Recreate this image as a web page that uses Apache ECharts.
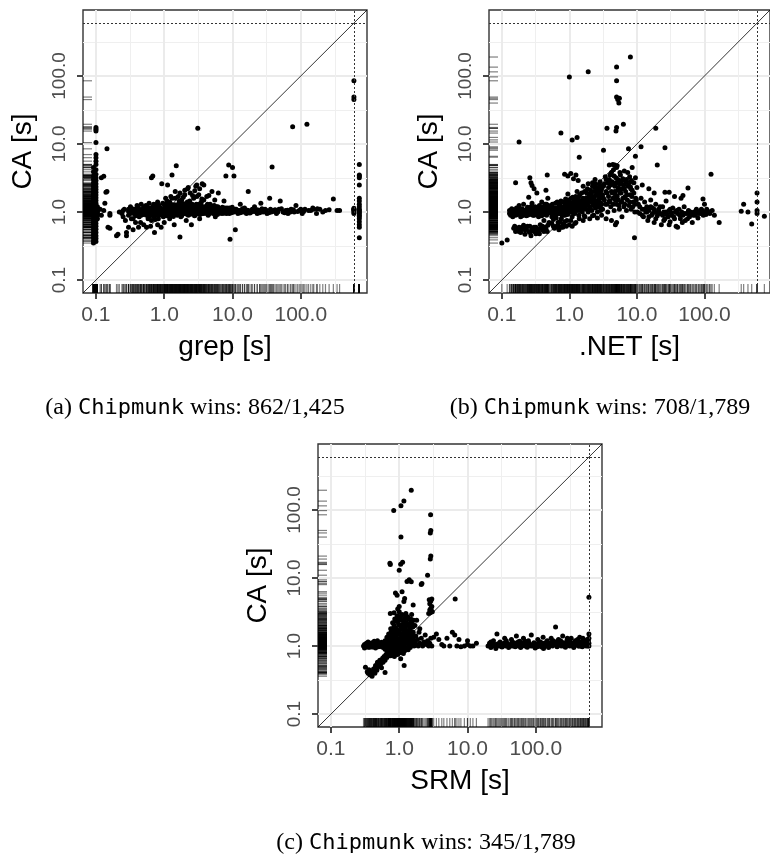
<!DOCTYPE html>
<html>
<head>
<meta charset="utf-8">
<script src="https://cdn.jsdelivr.net/npm/echarts@6/dist/echarts.min.js"></script>
<style>
  html, body { margin: 0; padding: 0; background: #fff; }
  #chart { width: 770px; height: 858px; }
</style>
</head>
<body>
<div id="chart"></div>
<script>
// shared log axis range of the three panels (10^-1.19 .. 10^2.97)
const AXIS_MIN = 0.0646
const AXIS_MAX = 933
const TIMEOUT = 600
const MAJOR_TICKS = [0.1, 1, 10, 100]
const MINOR_TICKS = [0.3162, 3.162, 31.62, 316.2]

const X_NAMES = ['grep [s]', '.NET [s]', 'SRM [s]']
const Y_NAME = 'CA [s]'
const PANEL_KEYS = ['a', 'b', 'c']
const WINS = ['862/1,425', '708/1,789', '345/1,789']

// (a) grep vs CA, [grep, CA]
const grepFast = [
  [0.092, 0.35], [0.092, 0.38], [0.092, 0.42], [0.092, 0.46], [0.092, 0.5], [0.092, 0.55], [0.092, 0.6], [0.092, 0.66],
  [0.092, 0.72], [0.092, 0.8], [0.092, 0.88], [0.092, 0.95], [0.092, 1.0], [0.092, 1.05], [0.092, 1.12], [0.092, 1.2],
  [0.092, 1.3], [0.092, 1.42], [0.092, 1.55], [0.092, 1.7], [0.092, 1.85], [0.092, 2.0], [0.092, 2.2], [0.092, 2.4],
  [0.092, 2.7], [0.092, 3.0], [0.092, 3.4], [0.092, 3.9], [0.092, 4.5],
  [0.1, 0.37], [0.1, 0.41], [0.1, 0.45], [0.1, 0.5], [0.1, 0.56], [0.1, 0.62], [0.1, 0.68], [0.1, 0.75], [0.1, 0.83],
  [0.1, 0.9], [0.1, 0.97], [0.1, 1.02], [0.1, 1.08], [0.1, 1.15], [0.1, 1.25], [0.1, 1.35], [0.1, 1.48], [0.1, 1.62],
  [0.1, 1.78], [0.1, 1.95], [0.1, 2.15], [0.1, 2.35], [0.1, 2.6], [0.1, 2.9], [0.1, 3.2], [0.1, 3.6], [0.1, 4.2],
  [0.1, 5.0], [0.1, 5.6], [0.1, 6.3], [0.1, 7.0], [0.1, 10.5], [0.1, 15.5], [0.1, 16.5], [0.1, 17.5],
  [0.096, 0.9], [0.096, 1.0], [0.096, 1.1], [0.096, 0.7], [0.096, 1.5], [0.096, 2.5], [0.096, 0.52], [0.096, 0.6],
  [0.096, 0.8], [0.096, 1.25], [0.096, 1.8], [0.096, 2.1], [0.096, 3.1], [0.096, 0.42],
  [0.105, 0.95], [0.105, 1.05], [0.105, 1.2], [0.105, 0.8], [0.105, 1.0], [0.105, 0.9], [0.105, 1.1],
]
const grepNear = [
  [0.12, 3.2], [0.13, 3.35], [0.14, 1.95], [0.145, 2.0], [0.145, 8.5], [0.135, 1.35], [0.16, 0.9], [0.16, 0.95],
  [0.16, 0.58], [0.15, 0.6], [0.13, 1.05], [0.12, 0.9], [0.115, 1.1],
]
const grepBand = [
  [0.2, 0.45], [0.21, 0.47], [0.22, 1.0], [0.24, 0.95], [0.25, 1.05], [0.27, 0.75], [0.28, 0.45], [0.28, 0.5],
  [0.3, 0.9], [0.3, 1.1], [0.32, 1.2], [0.33, 0.8], [0.34, 1.0], [0.35, 0.55], [0.36, 0.95], [0.37, 1.1], [0.38, 0.7],
  [0.4, 1.0], [0.4, 1.25], [0.42, 0.6], [0.43, 0.85], [0.45, 1.05], [0.46, 1.3], [0.47, 0.95], [0.5, 1.0], [0.5, 0.65],
  [0.52, 1.15], [0.55, 0.9], [0.56, 1.2], [0.58, 1.05], [0.6, 0.85], [0.6, 1.35], [0.62, 1.0], [0.65, 0.75],
  [0.65, 3.2], [0.68, 3.4], [0.7, 1.1], [0.7, 0.95], [0.72, 0.5], [0.75, 1.25], [0.78, 0.9], [0.8, 1.05], [0.8, 1.4],
  [0.82, 0.8], [0.85, 1.0], [0.88, 1.15], [0.9, 0.6], [0.9, 0.95], [0.92, 2.6], [0.95, 1.1], [0.97, 0.85],
  [0.45, 0.7], [0.5, 1.2], [0.55, 0.6], [0.6, 1.1], [0.63, 0.62], [0.66, 0.95], [0.7, 1.3], [0.74, 0.78], [0.77, 1.15],
  [0.8, 0.65], [0.84, 1.25], [0.87, 0.92], [0.35, 0.8], [0.4, 0.9], [0.3, 0.6], [0.25, 0.85], [0.26, 1.1],
  [1.0, 1.0], [1.0, 1.3], [1.0, 0.7], [1.05, 1.05], [1.1, 0.9], [1.1, 1.2], [1.12, 2.5], [1.15, 1.0], [1.2, 1.4],
  [1.2, 0.8], [1.25, 1.1], [1.3, 0.95], [1.3, 3.5], [1.35, 1.25], [1.4, 1.0], [1.4, 0.65], [1.45, 1.6], [1.5, 1.05],
  [1.5, 4.8], [1.55, 0.9], [1.6, 1.3], [1.6, 1.7], [1.65, 1.0], [1.7, 0.43], [1.7, 1.15], [1.75, 0.85], [1.8, 1.5],
  [1.85, 1.05], [1.9, 0.95], [1.95, 1.2], [2.0, 1.0], [2.0, 1.8], [2.1, 0.75], [2.1, 1.1], [2.2, 1.35], [2.25, 2.3],
  [2.3, 0.95], [2.4, 1.05], [2.5, 1.25], [2.5, 0.65], [2.6, 1.0], [2.7, 1.6], [2.8, 0.9], [2.9, 1.1], [3.0, 1.0],
  [3.0, 2.5], [3.1, 17], [3.2, 1.3], [3.3, 0.8], [3.4, 1.05], [3.5, 1.4], [3.6, 2.6], [3.7, 0.95], [3.8, 2.5],
  [3.9, 1.15], [4.0, 1.0], [4.2, 1.7], [4.4, 0.9], [4.5, 1.1], [4.7, 1.3], [5.0, 1.0], [5.0, 2.0], [5.3, 1.05],
  [5.6, 0.85], [5.8, 1.2], [6.0, 1.0], [6.2, 1.9], [6.5, 1.1], [7.0, 0.95], [7.3, 1.05], [7.5, 1.45], [8.0, 1.0],
  [8.0, 3.4], [8.3, 1.15], [8.8, 4.9], [9.0, 0.95], [9.2, 0.4], [9.5, 1.05], [10, 4.5], [10, 1.0], [10.5, 3.4],
  [11, 0.55], [11, 1.1], [12, 0.95], [12.5, 1.05], [13, 1.3], [14, 1.0], [15, 1.15], [16, 0.95], [17, 2.0],
  [17, 1.05], [19, 1.0], [21, 1.2], [23, 0.95], [25, 1.05], [26, 1.35], [28, 1.0], [30, 1.1], [32, 0.95], [35, 1.6],
  [37, 1.0], [38, 4.6], [40, 1.05], [44, 0.95], [48, 1.1], [50, 1.45], [55, 1.0], [60, 1.05], [65, 0.95], [72, 1.1],
  [76, 18], [80, 1.0], [85, 1.25], [95, 1.05], [105, 0.95], [115, 1.1], [123, 19.5], [130, 1.05], [150, 1.15],
  [155, 1.1], [170, 0.95], [190, 1.1], [230, 1.05], [300, 1.55], [340, 1.05], [370, 1.05],
  [0.9, 1.02], [0.93, 1.1], [0.96, 0.92], [1.0, 1.15], [1.02, 0.98], [1.05, 1.22], [1.08, 0.88], [1.1, 1.05],
  [1.13, 1.3], [1.16, 0.95], [1.2, 1.08], [1.23, 1.18], [1.26, 0.9], [1.3, 1.12], [1.33, 1.02], [1.36, 0.86],
  [1.4, 1.2], [1.44, 1.06], [1.48, 0.96], [1.52, 1.25], [1.56, 1.1], [1.6, 0.92], [1.64, 1.04], [1.68, 1.38],
  [1.72, 1.0], [1.76, 1.12], [1.8, 0.88], [1.85, 1.22], [1.9, 1.05], [1.95, 0.98], [2.0, 1.15], [2.05, 1.3],
  [2.1, 0.94], [2.15, 1.06], [2.2, 1.18], [2.25, 0.9], [2.3, 1.1], [2.36, 1.45], [2.42, 1.0], [2.48, 1.12],
  [2.55, 0.96], [2.62, 1.2], [2.7, 1.04], [2.78, 0.88], [2.86, 1.15], [2.95, 1.3], [3.05, 0.98], [3.15, 1.1],
  [3.25, 1.22], [3.35, 0.92], [3.45, 1.06], [3.55, 1.55], [3.7, 1.12], [3.85, 0.96], [4.0, 1.2], [4.15, 1.04],
  [4.3, 1.3], [4.5, 0.94], [4.7, 1.08], [4.9, 1.16], [5.1, 0.98], [5.4, 1.25], [5.7, 1.05], [6.0, 0.92], [6.3, 1.12],
  [6.7, 1.02], [7.1, 1.18], [7.5, 0.96], [8.0, 1.08], [8.5, 1.0], [9.0, 1.15], [9.6, 0.98], [1.3, 1.6], [1.9, 1.65],
  [2.6, 1.75], [3.2, 1.8], [2.2, 2.2], [2.8, 2.05], [4.5, 1.75], [5.5, 1.5], [1.1, 1.45], [0.95, 1.35],
]
const grepDense = [
  [0.3, 1.02], [0.32, 0.95], [0.34, 1.12], [0.36, 1.05], [0.38, 0.88], [0.4, 1.08], [0.42, 1.15], [0.44, 0.98],
  [0.46, 0.9], [0.48, 1.1], [0.5, 0.92], [0.52, 1.05], [0.54, 1.25], [0.56, 0.98], [0.58, 0.8], [0.6, 1.0],
  [0.62, 1.15], [0.64, 0.9], [0.66, 1.08], [0.68, 1.2], [0.7, 0.85], [0.72, 1.02], [0.74, 1.12], [0.76, 0.95],
  [0.78, 1.3], [0.8, 1.0], [0.82, 1.1], [0.84, 0.9], [0.86, 1.05], [0.88, 0.98],
  [1.01, 1.08], [1.04, 0.94], [1.07, 1.14], [1.11, 1.0], [1.14, 1.25], [1.17, 1.08], [1.21, 0.97], [1.24, 1.33],
  [1.28, 1.05], [1.31, 1.16], [1.35, 0.94], [1.38, 1.1], [1.42, 1.28], [1.46, 1.0], [1.5, 1.15], [1.54, 0.96],
  [1.58, 1.2], [1.62, 1.07], [1.66, 1.45], [1.7, 0.95], [1.74, 1.25], [1.78, 1.05], [1.83, 1.14], [1.88, 0.98],
  [1.93, 1.33], [1.98, 1.08], [2.03, 0.96], [2.08, 1.2], [2.13, 1.02], [2.18, 1.4], [2.24, 1.12], [2.3, 1.0],
  [2.36, 1.22], [2.43, 0.93], [2.5, 1.08], [2.57, 1.3], [2.64, 1.03], [2.72, 1.16], [2.8, 0.98], [2.88, 1.25],
  [2.97, 1.08], [3.1, 0.94], [3.2, 1.15], [3.3, 1.02], [3.4, 1.3], [3.5, 1.1], [3.6, 0.97], [3.75, 1.2], [3.9, 1.05],
  [4.05, 1.12], [4.2, 0.95], [4.4, 1.18], [4.6, 1.02], [4.8, 1.25], [5.0, 1.1], [5.2, 0.95], [5.5, 1.15], [5.8, 1.02],
  [6.1, 1.2], [6.4, 0.96], [6.8, 1.1], [7.2, 1.0], [7.7, 1.15], [8.2, 0.95], [8.7, 1.1], [9.3, 1.03], [9.9, 1.18],
  [10.5, 1.0], [11.3, 1.1], [12, 1.05], [13, 0.98], [14, 1.12], [15, 1.0], [16.5, 1.06], [18, 0.97], [19.5, 1.1],
  [21, 1.02], [23, 1.08], [25, 0.98], [27, 1.12], [29, 1.02], [31, 1.06], [34, 0.98], [36, 1.1], [39, 1.02],
  [42, 1.08], [46, 1.0], [52, 1.12], [58, 0.98], [64, 1.06], [70, 1.0], [78, 1.08], [90, 1.02], [100, 1.1],
  [110, 1.02], [140, 1.05], [175, 1.12], [210, 1.0], [260, 1.08],
  [2.4, 1.9], [2.0, 2.1], [1.7, 1.9], [3.0, 1.7], [3.8, 1.5], [1.25, 1.7], [2.9, 2.4], [3.3, 2.2], [1.45, 2.0],
  [1.05, 1.6],
]
const grepTimeout = [
  [600, 85], [600, 49], [600, 45], [600, 1.0], [600, 1.05], [600, 1.1], [600, 0.95], [600, 1.08], [600, 1.14],
  [720, 5.0], [720, 3.5], [720, 3.4], [720, 3.2], [720, 2.5], [720, 1.6], [720, 1.45], [720, 1.3], [720, 1.2],
  [720, 1.1], [720, 1.05], [720, 1.0], [720, 0.95], [720, 0.9], [720, 0.85], [720, 0.8], [720, 0.72], [720, 0.65],
  [720, 0.6], [720, 0.42],
]

// (b) .NET vs CA, [.NET, CA]
const netLeft = [
  [0.13, 0.95], [0.13, 1.05], [0.135, 0.9], [0.14, 1.0], [0.14, 1.12], [0.145, 0.85], [0.15, 0.98], [0.15, 1.08],
  [0.15, 0.58], [0.155, 0.62], [0.16, 1.0], [0.16, 0.52], [0.165, 1.15], [0.17, 0.92], [0.17, 0.55], [0.175, 1.05],
  [0.18, 0.6], [0.18, 1.25], [0.185, 0.97], [0.19, 0.5], [0.19, 1.1], [0.2, 0.88], [0.2, 1.02], [0.2, 0.56],
  [0.21, 1.3], [0.21, 0.64], [0.22, 0.95], [0.22, 0.47], [0.23, 1.08], [0.23, 0.58], [0.24, 0.9], [0.24, 1.18],
  [0.25, 0.52], [0.25, 1.0], [0.26, 0.62], [0.26, 1.12], [0.27, 0.45], [0.27, 0.95], [0.28, 1.35], [0.28, 0.55],
  [0.29, 1.05], [0.3, 0.6], [0.3, 0.9], [0.31, 1.2], [0.32, 0.48], [0.32, 1.0], [0.33, 0.57], [0.34, 1.1],
  [0.35, 0.85], [0.35, 0.5], [0.36, 1.25], [0.37, 0.65], [0.38, 0.95], [0.39, 1.4], [0.4, 0.55], [0.4, 1.05],
  [0.42, 0.75], [0.43, 1.15], [0.44, 0.6], [0.45, 0.95], [0.46, 1.3], [0.47, 0.52], [0.48, 1.05], [0.5, 0.7],
  [0.5, 1.15], [0.16, 2.7], [0.3, 2.2], [0.33, 1.9], [0.25, 1.65], [0.45, 2.1], [0.48, 1.6], [0.26, 3.2],
  [0.27, 2.7], [0.28, 2.45], [0.47, 3.5], [0.85, 3.6], [0.95, 3.4], [1.05, 3.7], [1.15, 3.1], [1.25, 3.5], [1.35, 2.9],
]
const netMid = [
  [0.52, 1.0], [0.55, 0.85], [0.55, 1.2], [0.58, 0.62], [0.6, 1.05], [0.62, 1.35], [0.63, 0.9], [0.65, 1.1],
  [0.68, 0.7], [0.7, 1.0], [0.7, 1.25], [0.72, 0.95], [0.75, 1.45], [0.76, 0.8], [0.78, 1.1], [0.8, 0.6], [0.82, 1.0],
  [0.84, 1.2], [0.86, 0.9], [0.88, 1.55], [0.9, 1.05], [0.92, 0.75], [0.94, 1.3], [0.96, 0.95], [1.0, 1.1],
  [1.0, 0.65], [1.02, 1.4], [1.05, 1.0], [1.08, 1.2], [1.1, 0.85], [1.12, 1.65], [1.15, 1.05], [1.18, 1.3],
  [1.2, 0.95], [1.22, 1.15], [1.25, 0.7], [1.28, 1.5], [1.3, 1.05], [1.34, 1.25], [1.38, 0.9], [1.42, 1.8],
  [1.45, 1.1], [1.5, 1.35], [1.55, 1.0], [1.58, 1.6], [1.62, 1.2], [1.66, 0.88], [1.7, 1.45], [1.75, 1.1],
  [1.8, 1.9], [1.85, 1.3], [1.9, 1.0], [1.95, 1.55], [2.0, 1.2], [2.05, 2.1], [2.1, 1.4], [2.15, 1.05], [2.2, 1.7],
  [2.25, 1.25], [2.3, 0.9], [2.35, 1.5], [2.4, 2.3], [2.45, 1.15], [2.5, 1.8], [2.55, 1.35], [2.6, 1.0], [2.65, 2.0],
  [2.7, 1.5], [2.75, 1.2], [2.8, 2.5], [2.85, 1.65], [2.9, 1.05], [2.95, 1.35], [3.0, 2.2], [0.6, 0.58],
  [0.65, 0.62], [0.7, 0.55], [0.75, 0.6], [1.1, 0.62], [0.85, 0.72], [1.6, 0.75], [2.0, 0.8], [0.95, 1.85],
  [1.3, 2.0], [1.6, 2.4], [2.2, 2.7], [2.4, 3.0], [1.9, 2.6],
]
const netDense = [
  [0.14, 0.95], [0.15, 1.02], [0.16, 0.9], [0.17, 1.08], [0.18, 0.98], [0.19, 0.85], [0.2, 1.12], [0.21, 0.95],
  [0.22, 1.05], [0.23, 0.88], [0.24, 1.02], [0.25, 1.1], [0.26, 0.92], [0.27, 1.2], [0.28, 1.0], [0.29, 0.9],
  [0.3, 1.05], [0.31, 0.95], [0.32, 1.15], [0.33, 1.0], [0.34, 0.9], [0.35, 1.08], [0.36, 0.95], [0.37, 1.15],
  [0.38, 1.05], [0.39, 0.88], [0.4, 1.2], [0.41, 1.0], [0.42, 0.92], [0.43, 1.1], [0.44, 1.3], [0.45, 1.05],
  [0.46, 0.9], [0.47, 1.15], [0.48, 0.98], [0.49, 1.25],
  [0.16, 0.58], [0.18, 0.52], [0.2, 0.6], [0.22, 0.55], [0.24, 0.62], [0.26, 0.5], [0.28, 0.58], [0.3, 0.52],
  [0.32, 0.6], [0.34, 0.55], [0.36, 0.48], [0.38, 0.58], [0.4, 0.62], [0.42, 0.52], [0.45, 0.57], [0.48, 0.64],
  [0.52, 1.1], [0.54, 0.95], [0.56, 1.3], [0.58, 1.02], [0.6, 0.9], [0.62, 1.15], [0.64, 1.05], [0.66, 1.4],
  [0.68, 0.95], [0.7, 1.12], [0.72, 1.3], [0.74, 1.0], [0.76, 1.2], [0.78, 0.9], [0.8, 1.4], [0.82, 1.1],
  [0.84, 0.98], [0.86, 1.25], [0.88, 1.05], [0.9, 1.35], [0.92, 1.15], [0.94, 0.92], [0.96, 1.5], [0.98, 1.2],
  [1.0, 1.3], [1.03, 1.05], [1.06, 1.6], [1.09, 1.15], [1.12, 1.35], [1.15, 0.95], [1.18, 1.5], [1.21, 1.25],
  [1.24, 1.7], [1.27, 1.1], [1.3, 1.4], [1.33, 1.2], [1.36, 1.65], [1.4, 1.05], [1.44, 1.45], [1.48, 1.25],
  [1.52, 1.9], [1.56, 1.15], [1.6, 1.5], [1.64, 1.3], [1.68, 2.0], [1.72, 1.2], [1.76, 1.6], [1.8, 1.4],
  [1.85, 2.2], [1.9, 1.25], [1.95, 1.75], [2.0, 1.5], [2.05, 1.1], [2.1, 1.9], [2.15, 1.6], [2.2, 2.4],
  [2.25, 1.35], [2.3, 2.0], [2.35, 1.7], [2.4, 1.2], [2.45, 2.6], [2.5, 1.45], [2.55, 2.1], [2.6, 1.75],
  [2.65, 1.3], [2.7, 2.3], [2.75, 1.9], [2.8, 1.55], [2.85, 2.8], [2.9, 1.25], [2.95, 2.05],
  [3.1, 1.8], [3.2, 2.4], [3.3, 1.5], [3.4, 3.3], [3.5, 2.0], [3.6, 1.3], [3.7, 2.7], [3.8, 1.7], [3.9, 3.0],
  [4.0, 1.4], [4.1, 2.5], [4.2, 3.8], [4.3, 1.9], [4.4, 2.6], [4.5, 1.3], [4.6, 3.4], [4.7, 2.0], [4.8, 1.5],
  [4.9, 2.7], [5.0, 4.5], [5.1, 1.7], [5.2, 3.0], [5.3, 2.3], [5.4, 1.25], [5.5, 2.6], [5.6, 1.9], [5.7, 3.5],
  [5.8, 1.4], [5.9, 2.2], [6.0, 2.9], [6.2, 1.6], [6.4, 2.5], [6.6, 1.3], [6.8, 2.0], [7.0, 3.0], [7.2, 1.8],
  [7.5, 2.5], [7.8, 1.4], [8.1, 2.2], [8.4, 1.7], [8.7, 1.2], [9.0, 1.9], [9.4, 1.3], [9.8, 1.5],
  [0.55, 0.68], [0.62, 0.6], [0.68, 0.64], [0.72, 0.72], [0.8, 0.66], [0.9, 0.62], [1.05, 0.75], [1.2, 0.68],
  [1.4, 0.8], [1.7, 0.85], [2.2, 0.88], [2.6, 0.82], [3.0, 0.9], [0.58, 0.78], [0.64, 0.82],
]
const netRise = [
  [3.1, 1.1], [3.2, 1.6], [3.3, 2.6], [3.4, 1.3], [3.5, 3.0], [3.6, 1.9], [3.7, 1.0], [3.8, 2.3], [3.9, 1.45],
  [4.0, 3.5], [4.1, 1.2], [4.2, 2.0], [4.3, 2.8], [4.4, 1.6], [4.5, 4.2], [4.6, 1.05], [4.7, 2.4], [4.8, 1.8],
  [4.9, 3.2], [5.0, 1.3], [5.1, 4.8], [5.2, 2.1], [5.3, 1.5], [5.4, 2.9], [5.5, 1.1], [5.6, 3.8], [5.8, 1.9],
  [5.9, 2.6], [6.0, 1.4], [6.2, 3.1], [6.4, 1.2], [6.5, 2.2], [6.7, 1.7], [6.9, 2.8], [7.0, 1.05], [7.2, 1.5],
  [7.4, 2.4], [7.6, 1.25], [7.8, 3.3], [8.0, 1.8], [8.2, 1.1], [8.5, 2.1], [8.8, 1.4], [9.0, 2.7], [9.3, 1.0],
  [9.6, 1.6], [10, 2.3], [3.5, 0.8], [4.2, 0.75], [5.0, 0.7], [6.0, 0.85], [4.8, 0.65], [3.9, 4.9], [4.4, 5.0],
  [6.5, 4.0], [7.3, 3.8], [8.3, 2.9], [9.5, 3.2], [8, 2.8], [8, 2.35], [8.5, 4.5], [4.7, 4.9],
]
const netTail = [
  [10.5, 1.3], [11, 0.95], [11.5, 1.6], [12, 1.1], [12.5, 0.85], [13, 1.4], [13.5, 1.0], [14, 1.2], [14.5, 0.75],
  [15, 1.05], [16, 1.5], [16.5, 0.9], [17, 1.15], [18, 0.7], [18.5, 1.0], [19, 1.3], [20, 0.88], [21, 1.1],
  [22, 0.95], [23, 0.65], [24, 1.2], [25, 1.0], [26, 0.8], [27, 1.45], [28, 0.92], [30, 1.05], [31, 0.72],
  [32, 0.98], [34, 1.15], [35, 0.85], [37, 1.0], [38, 0.62], [40, 0.95], [42, 1.1], [44, 0.8], [46, 1.0], [48, 0.9],
  [50, 1.2], [52, 0.75], [55, 0.95], [58, 1.05], [60, 0.85], [63, 0.97], [66, 0.7], [70, 1.0], [73, 0.9], [76, 1.1],
  [80, 0.82], [84, 1.0], [88, 0.95], [92, 1.05], [96, 0.9], [100, 1.0], [105, 0.92], [112, 1.02], [120, 0.95],
  [130, 1.05], [140, 0.9], [36, 1.7], [45, 1.6], [48, 1.75], [26, 1.95], [30, 1.95], [15, 2.2], [12, 2.5], [18, 1.9],
  [40, 0.6], [30, 0.65], [95, 1.55], [100, 1.3],
  [10.2, 1.0], [11, 1.2], [12, 0.9], [13, 1.1], [14, 1.0], [15, 0.85], [16, 1.2], [17, 0.95], [18, 1.1], [19, 0.8],
  [21, 1.0], [22, 1.2], [24, 0.9], [25, 0.75], [27, 1.0], [29, 0.85], [31, 1.1], [33, 0.9], [36, 0.8], [39, 1.05],
  [43, 0.9], [47, 0.7], [51, 0.95], [56, 0.8], [62, 1.0], [68, 0.9], [75, 1.0], [82, 0.95], [90, 1.1], [98, 0.95],
  [108, 1.1], [118, 1.0],
]
const netTimeout = [
  [350, 1.03], [380, 1.3], [440, 1.0], [500, 0.67], [600, 1.9], [600, 1.4], [600, 1.05], [600, 0.95], [770, 0.87],
]
const netHigh = [
  [8, 190], [5, 135], [1.9, 115], [1.0, 97], [5, 85], [5, 49], [5.2, 45], [5.5, 47], [5.4, 40], [6.3, 19.5],
  [5, 17.5], [4.9, 15.5], [3.6, 17], [19, 17], [0.75, 14.5], [1.1, 11.5], [1.3, 12.5], [0.18, 10.7], [3.2, 8.1],
  [7.5, 8.5], [11.5, 9.1], [26, 8.8], [9.5, 6.6], [1.4, 6.4], [20, 4.9], [125, 3.6], [57, 2.25], [0.1, 0.35],
  [0.12, 0.39], [9.2, 0.42], [165, 0.7],
]

// (c) SRM vs CA, [SRM, CA]
const srmFlat = [
  [0.3, 1.0], [0.31, 1.05], [0.32, 0.98], [0.33, 1.1], [0.34, 1.0], [0.35, 1.15], [0.36, 1.02], [0.37, 0.96],
  [0.38, 1.08], [0.39, 1.0], [0.4, 1.12], [0.41, 0.97], [0.42, 1.05], [0.43, 1.18], [0.44, 1.0], [0.45, 0.94],
  [0.46, 1.1], [0.47, 1.02], [0.48, 1.2], [0.5, 0.98], [0.52, 1.08], [0.53, 1.0], [0.55, 1.14], [0.57, 0.96],
  [0.58, 1.05], [0.31, 0.94], [0.33, 1.02], [0.35, 0.96], [0.37, 1.06], [0.4, 0.98], [0.43, 1.08], [0.46, 0.98],
  [0.5, 1.1], [0.54, 1.0],
]
const srmArm = [
  [0.32, 0.49], [0.34, 0.42], [0.36, 0.45], [0.37, 0.38], [0.39, 0.42], [0.4, 0.36], [0.42, 0.46], [0.44, 0.4],
  [0.45, 0.52], [0.47, 0.44], [0.48, 0.58], [0.5, 0.5], [0.52, 0.62], [0.54, 0.55], [0.55, 0.48], [0.57, 0.66],
  [0.58, 0.58], [0.6, 0.7], [0.62, 0.41], [0.62, 0.62], [0.64, 0.75], [0.66, 0.68], [0.68, 0.8], [0.7, 0.72],
  [0.72, 0.85], [0.74, 0.78], [0.76, 0.9], [0.78, 0.82],
]
const srmCore = [
  [0.6, 0.95], [0.62, 1.2], [0.64, 1.0], [0.66, 1.35], [0.68, 1.1], [0.7, 0.9], [0.7, 1.5], [0.72, 1.05],
  [0.74, 1.25], [0.75, 1.8], [0.76, 1.0], [0.78, 1.4], [0.8, 1.1], [0.8, 2.2], [0.82, 0.95], [0.83, 1.6],
  [0.85, 1.2], [0.86, 2.5], [0.88, 1.0], [0.88, 1.85], [0.9, 1.35], [0.9, 0.85], [0.92, 1.1], [0.93, 2.8],
  [0.95, 1.5], [0.96, 0.95], [0.98, 1.2], [0.98, 2.1], [1.0, 1.05], [1.0, 1.7], [1.02, 0.8], [1.03, 2.6],
  [1.05, 1.3], [1.06, 1.0], [1.08, 1.9], [1.1, 1.15], [1.1, 2.9], [1.12, 0.9], [1.14, 1.45], [1.16, 2.3],
  [1.18, 1.05], [1.2, 1.7], [1.22, 1.25], [1.24, 2.7], [1.26, 0.95], [1.28, 1.5], [1.3, 2.0], [1.32, 1.1],
  [1.35, 2.5], [1.37, 1.35], [1.4, 1.0], [1.42, 1.8], [1.45, 2.2], [1.47, 1.2], [1.5, 1.55], [1.52, 2.9],
  [1.55, 1.05], [1.58, 1.9], [1.6, 1.3], [1.62, 2.4], [0.85, 0.7], [0.95, 0.75], [1.05, 0.65], [1.2, 0.85],
  [1.18, 0.52], [0.74, 3.0], [0.84, 3.1], [1.0, 3.2], [1.25, 3.0], [0.95, 3.5],
  [1.65, 1.0], [1.7, 1.15], [1.75, 1.4], [1.8, 1.05], [1.85, 1.25], [1.9, 1.0], [1.95, 1.6], [2.0, 1.1],
  [2.1, 1.3], [2.2, 1.0], [2.3, 1.15], [2.4, 1.45], [2.5, 1.05], [2.6, 1.2], [2.7, 1.0], [2.8, 1.1], [2.9, 1.3],
  [3.0, 1.0], [1.7, 2.0], [1.8, 2.4], [2.0, 1.8],
  [0.62, 0.9], [0.65, 1.1], [0.68, 1.25], [0.7, 1.0], [0.72, 1.4], [0.74, 1.15], [0.76, 1.6], [0.78, 1.05],
  [0.8, 1.3], [0.8, 1.8], [0.82, 1.2], [0.84, 2.0], [0.85, 1.45], [0.86, 1.0], [0.88, 1.6], [0.9, 2.3], [0.9, 1.1],
  [0.92, 1.75], [0.94, 1.3], [0.95, 2.6], [0.96, 1.15], [0.98, 1.55], [1.0, 2.0], [1.0, 1.25], [1.02, 2.4],
  [1.04, 1.5], [1.05, 1.1], [1.07, 2.8], [1.08, 1.35], [1.1, 1.8], [1.12, 1.05], [1.13, 2.1], [1.15, 1.6],
  [1.17, 1.25], [1.19, 2.5], [1.2, 1.4], [1.22, 1.9], [1.24, 1.1], [1.26, 2.2], [1.28, 1.3], [1.3, 1.7],
  [1.33, 2.7], [1.35, 1.2], [1.38, 1.55], [1.4, 2.0], [1.43, 1.3], [1.46, 1.7], [1.48, 2.5], [1.5, 1.1],
  [1.53, 1.45], [1.56, 2.1], [1.58, 1.2], [1.6, 1.6], [1.62, 1.05],
  [0.66, 0.85], [0.7, 0.8], [0.75, 0.72], [0.8, 0.9], [0.84, 0.8], [0.88, 0.9], [0.92, 0.82], [0.98, 0.88],
  [1.0, 0.95], [1.08, 0.82], [1.1, 0.98], [1.15, 0.78], [1.25, 0.92], [1.35, 0.88], [1.45, 0.95],
  [0.55, 0.6], [0.5, 0.55], [0.46, 0.5], [0.44, 0.47], [0.42, 0.41], [0.38, 0.4], [0.35, 0.4], [0.6, 0.65],
  [0.64, 0.7], [0.7, 0.78],
]
const srmSpike = [
  [2.7, 3.0], [2.8, 3.4], [2.85, 3.1], [2.9, 3.6], [2.95, 3.3], [3.0, 3.8], [3.05, 3.2], [2.8, 4.2], [2.9, 4.6],
  [3.0, 4.9], [2.75, 4.8], [2.85, 19], [2.9, 21], [2.85, 46], [2.9, 50], [2.88, 85], [2.6, 11],
  [0.83, 98], [1.06, 115], [1.17, 135], [1.5, 195], [1.06, 40], [0.73, 16.5], [0.74, 15.8], [1.0, 13], [1.05, 16],
  [1.12, 17], [1.4, 9.4], [1.3, 8.9], [1.5, 8.8], [2.15, 8.3], [2.1, 8.0], [0.93, 5.6], [1.1, 6.3], [1.17, 4.5],
  [1.0, 3.8], [0.88, 6.0], [1.2, 5.0], [1.6, 4.0], [6.6, 4.9],
]
const srmTail = [
  [3.2, 1.35], [3.5, 1.5], [3.8, 1.25], [4.2, 1.05], [4.5, 1.0], [5.0, 1.3], [5.5, 1.0], [6.0, 1.6], [6.5, 1.45],
  [7.0, 1.0], [7.5, 1.25], [8.0, 0.98], [9, 1.0], [10, 1.05], [10, 1.2], [11, 1.0], [12, 1.0], [13.5, 1.1],
  [20, 1.0], [21, 1.1], [22, 0.95], [23, 1.05], [24, 1.2], [25, 1.0], [26, 0.92], [27, 1.5], [28, 1.08], [29, 1.0],
  [30, 1.15], [32, 0.97], [33, 1.05], [34, 1.1], [35, 1.3], [36, 1.0], [38, 1.1], [40, 0.95], [42, 1.05], [44, 1.25],
  [45, 1.15], [46, 1.0], [48, 1.12], [50, 0.98], [52, 1.4], [54, 1.05], [56, 1.0], [58, 1.18], [60, 0.95],
  [63, 1.08], [65, 1.12], [66, 1.3], [69, 1.0], [72, 1.1], [75, 0.96], [78, 1.2], [82, 1.05], [85, 1.0], [86, 1.45],
  [90, 1.0], [94, 1.12], [98, 0.94], [102, 1.06], [107, 1.25], [110, 1.1], [112, 1.0], [117, 1.15], [122, 0.97],
  [125, 1.1], [128, 1.35], [130, 0.92], [134, 1.05], [140, 1.0], [147, 1.2], [150, 1.05], [154, 0.95], [160, 1.1],
  [168, 1.3], [176, 1.0], [180, 1.2], [185, 1.08], [195, 1.9], [195, 1.15], [205, 0.98], [210, 1.1], [215, 1.25],
  [225, 1.05], [236, 1.0], [240, 1.15], [248, 1.4], [260, 1.1], [270, 1.05], [272, 0.96], [285, 1.2], [290, 1.3],
  [300, 1.05], [315, 1.0], [320, 1.15], [330, 1.3], [345, 1.1], [350, 1.0], [360, 0.95], [370, 1.05], [380, 1.2],
  [390, 1.1], [400, 1.05], [410, 1.25], [420, 1.0], [430, 1.0], [440, 1.35], [450, 1.15], [460, 1.1], [470, 1.05],
  [480, 0.98], [490, 1.3], [500, 1.2], [510, 1.1], [520, 1.05], [530, 1.2], [545, 1.0], [560, 1.1], [570, 1.25],
  [580, 1.0], [590, 1.2], [600, 1.1], [600, 1.3], [600, 1.0], [600, 1.5], [600, 5.2],
  [22, 1.15], [26, 1.05], [31, 1.0], [37, 1.2], [43, 1.0], [49, 1.05], [55, 1.15], [62, 1.0], [70, 1.18],
  [80, 1.1], [92, 1.05], [105, 0.98], [118, 1.05], [138, 1.12], [158, 1.0], [172, 1.15], [200, 1.05], [230, 1.2],
  [255, 1.0], [280, 1.1], [310, 1.2], [340, 1.05], [375, 1.15], [415, 1.1], [455, 1.0], [495, 1.08], [540, 1.15],
  [575, 1.05],
]

const PANEL_POINTS = [
  [...grepFast, ...grepNear, ...grepBand, ...grepDense, ...grepTimeout],
  [...netLeft, ...netMid, ...netDense, ...netRise, ...netTail, ...netTimeout, ...netHigh],
  [...srmFlat, ...srmArm, ...srmCore, ...srmSpike, ...srmTail],
]

// panel boxes and caption positions, in pixels
const LAYOUT = [
  { left: 83, top: 10, capX: 195, capY: 396 },
  { left: 489, top: 10, capX: 600, capY: 396 },
  { left: 318, top: 444, capX: 426, capY: 831 },
]
const BOX = 284
const RUG_LEN = 9
const RUG_COLOR = 'rgba(0, 0, 0, 0.5)'
const SANS = 'Liberation Sans, Arial, sans-serif'

function rugBottom(params, api) {
  const cs = params.coordSys
  const x = api.coord([api.value(0), AXIS_MIN])[0]
  const y0 = cs.y + cs.height
  return {
    type: 'line',
    shape: { x1: x, y1: y0, x2: x, y2: y0 - RUG_LEN },
    style: { stroke: RUG_COLOR, lineWidth: 1.2 },
  }
}

function rugLeft(params, api) {
  const cs = params.coordSys
  const y = api.coord([AXIS_MIN, api.value(1)])[1]
  return {
    type: 'line',
    shape: { x1: cs.x, y1: y, x2: cs.x + RUG_LEN, y2: y },
    style: { stroke: RUG_COLOR, lineWidth: 1.2 },
  }
}

function mainAxis(i, isX) {
  return {
    type: 'log',
    gridIndex: i,
    min: AXIS_MIN,
    max: AXIS_MAX,
    position: isX ? 'bottom' : 'left',
    axisLine: { show: false },
    axisTick: { show: true, length: 6, customValues: MAJOR_TICKS, lineStyle: { color: '#333', width: 1.8 } },
    axisLabel: {
      customValues: MAJOR_TICKS,
      formatter: (v) => Number(v).toFixed(1),
      color: '#4d4d4d',
      fontFamily: SANS,
      fontSize: isX ? 21 : 19,
      margin: isX ? 12 : 14,
      rotate: isX ? 0 : 90,
    },
    splitLine: { show: true, lineStyle: { color: '#ebebeb', width: 2 } },
    name: isX ? X_NAMES[i] : Y_NAME,
    nameLocation: 'middle',
    nameGap: isX ? 40 : 46,
    nameRotate: isX ? 0 : 90,
    nameTextStyle: { fontFamily: SANS, fontSize: 28, color: '#000' },
  }
}

function minorAxis(i, isX) {
  return {
    type: 'log',
    gridIndex: i,
    min: AXIS_MIN,
    max: AXIS_MAX,
    position: isX ? 'top' : 'right',
    axisLine: { show: false },
    axisTick: { show: false, customValues: MINOR_TICKS },
    axisLabel: { show: false },
    splitLine: { show: true, lineStyle: { color: '#efefef', width: 1 } },
  }
}

const xAxes = []
const yAxes = []
const series = []
LAYOUT.forEach((box, i) => {
  xAxes.push(mainAxis(i, true), minorAxis(i, true))
  yAxes.push(mainAxis(i, false), minorAxis(i, false))
  const ax = { xAxisIndex: 2 * i, yAxisIndex: 2 * i }
  const pts = PANEL_POINTS[i]
  series.push(
    { type: 'custom', ...ax, renderItem: rugBottom, data: pts, silent: true, z: 1 },
    { type: 'custom', ...ax, renderItem: rugLeft, data: pts, silent: true, z: 1 },
    {
      type: 'scatter', ...ax, data: pts, symbolSize: 5,
      itemStyle: { color: '#000', opacity: 1 }, silent: true, z: 3,
    },
    {
      type: 'line', ...ax, data: [[AXIS_MIN, AXIS_MIN], [AXIS_MAX, AXIS_MAX]],
      showSymbol: false, silent: true, z: 4,
      lineStyle: { color: '#000', width: 0.8 },
      markLine: {
        silent: true, symbol: 'none', animation: false,
        label: { show: false },
        lineStyle: { color: '#333', width: 1, type: [2, 2] },
        data: [{ xAxis: TIMEOUT }, { yAxis: TIMEOUT }],
      },
    },
  )
})

const chart = echarts.init(document.getElementById('chart'), null, { renderer: 'canvas' })
chart.setOption({
  animation: false,
  backgroundColor: '#fff',
  grid: LAYOUT.map((box) => ({
    left: box.left, top: box.top, width: BOX, height: BOX - 1,
    show: true, borderColor: '#333', borderWidth: 1.4, backgroundColor: 'transparent',
  })),
  xAxis: xAxes,
  yAxis: yAxes,
  title: LAYOUT.map((box, i) => ({
    text: `{t|(${PANEL_KEYS[i]}) }{m|Chipmunk}{t| wins: ${WINS[i]}}`,
    left: box.capX,
    top: box.capY,
    textAlign: 'center',
    padding: 0,
    textStyle: {
      fontWeight: 'normal',
      rich: {
        t: { fontFamily: 'Liberation Serif, Times New Roman, serif', fontSize: 24, fontWeight: 'normal', color: '#000' },
        m: { fontFamily: 'DejaVu Sans Mono, monospace', fontSize: 22, fontWeight: 'normal', color: '#000' },
      },
    },
  })),
  series: series,
})
</script>
</body>
</html>
